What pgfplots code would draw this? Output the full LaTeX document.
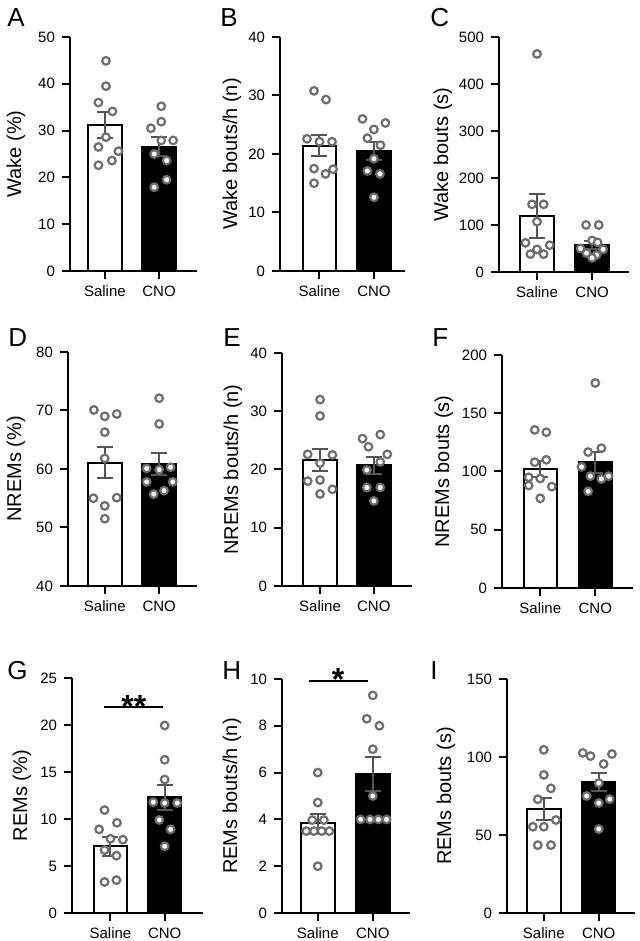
\documentclass[border=0pt]{standalone}
\usepackage{fontspec}
\setmainfont{Liberation Sans}
\usepackage{pgfplots}
\pgfplotsset{compat=1.18}
\definecolor{ptgray}{HTML}{6E6E6E}
\definecolor{errgray}{HTML}{555555}
\pgfplotsset{
  panel/.style={
    scale only axis, anchor=south west,
    axis x line*=bottom, axis y line*=left,
    axis line style={line width=1pt,-},
    tick align=outside, major tick length=4pt,
    tick style={line width=1pt, black},
    xtick={1,2}, xticklabels={Saline,CNO},
    ticklabel style={font=\fontsize{7.5}{9}\selectfont},
    /pgf/number format/assume math mode=true,
    label style={font=\fontsize{10}{12}\selectfont},
    minor tick num=0,
  },
  ylab/.style={every axis y label/.style={at={([xshift=-#1]axis description cs:0,0.5)}, rotate=90, anchor=center, font=\fontsize{10}{12}\selectfont}},
  barS/.style={ybar, bar width=16.75pt, fill=white, draw=black, line width=1pt},
  barC/.style={ybar, bar width=16.75pt, fill=black, draw=black, line width=1pt},
  err/.style={draw=none, mark=none, error bars/.cd, y dir=both, y explicit, error bar style={draw=errgray, line width=1pt}, error mark options={rotate=90, mark size=4pt, line width=1pt, draw=errgray}},
  pts/.style={only marks, mark=*, mark size=1.9pt, mark options={fill=white, draw=ptgray, line width=1.1pt}},
}
\begin{document}
\begin{tikzpicture}
\useasboundingbox (0,0) rectangle (319.5pt,470.5pt);
% ---------- A
\begin{axis}[panel, ylab=27pt, at={(35pt,335pt)}, width=63.5pt, height=117pt,
  xmin=0.356, xmax=2.70, ymin=0, ymax=50, ytick={0,10,...,50}, ylabel={Wake (\%)}]
\addplot[barS] coordinates {(1,31.2)};
\addplot[barC] coordinates {(2,26.6)};
\addplot[err] coordinates {(1,31.2) +- (0,2.7) (2,26.6) +- (0,2.0)};
\addplot[pts] coordinates {(1.02,44.9) (1.02,39.5) (0.88,36.0) (1.14,34.1) (1.02,28.6) (0.88,26.5) (1.25,25.6) (1.13,23.6) (0.88,22.6)};
\addplot[pts] coordinates {(1.85,30.5) (2.04,31.9) (2.04,35.2) (2.04,27.9) (2.26,27.9) (1.91,25.0) (2.14,23.6) (2.14,19.5) (1.91,17.9)};
\end{axis}
% ---------- B
\begin{axis}[panel, ylab=24pt, at={(140pt,335pt)}, width=62.5pt, height=117pt,
  xmin=0.275, xmax=2.57, ymin=0, ymax=40, ytick={0,10,...,40}, ylabel={Wake bouts/h (n)}]
\addplot[barS] coordinates {(1,21.4)};
\addplot[barC] coordinates {(2,20.5)};
\addplot[err] coordinates {(1,21.4) +- (0,1.8) (2,20.5) +- (0,1.6)};
\addplot[pts] coordinates {(0.90,30.8) (1.12,29.3) (0.77,22.6) (1.00,22.1) (1.23,22.1) (0.90,17.5) (1.11,16.6) (1.25,17.4) (0.90,15.0)};
\addplot[pts] coordinates {(1.79,26.0) (2.21,25.3) (2.00,24.2) (1.88,22.7) (2.12,21.5) (2.00,19.2) (1.88,17.1) (2.11,16.6) (2.00,12.6)};
\end{axis}
% ---------- C
\begin{axis}[panel, ylab=28pt, at={(249.5pt,334.5pt)}, width=65pt, height=117.5pt,
  xmin=0.31, xmax=2.67, ymin=0, ymax=500, ytick={0,100,...,500}, ylabel={Wake bouts (s)}]
\addplot[barS] coordinates {(1,120)};
\addplot[barC] coordinates {(2,57)};
\addplot[err] coordinates {(1,120) +- (0,47) (2,57) +- (0,8)};
\addplot[pts] coordinates {(1.00,464) (0.91,144) (1.12,144) (1.00,107) (0.79,62) (1.23,57) (1.00,48) (0.88,38) (1.12,38)};
\addplot[pts] coordinates {(1.89,100) (2.12,100) (2.00,67) (2.10,63) (1.79,50) (2.20,48) (1.90,40) (2.08,36) (2.00,30)};
\end{axis}
% ---------- D
\begin{axis}[panel, ylab=26pt, at={(34pt,177.5pt)}, width=64.5pt, height=117pt,
  xmin=0.324, xmax=2.695, ymin=40, ymax=80, ytick={40,50,...,80}, ylabel={NREMs (\%)}]
\addplot[barS] coordinates {(1,61.1)};
\addplot[barC] coordinates {(2,60.8)};
\addplot[err] coordinates {(1,61.1) +- (0,2.7) (2,60.8) +- (0,1.9)};
\addplot[pts] coordinates {(0.80,70.1) (1.00,69.0) (1.22,69.4) (1.00,66.3) (1.00,61.8) (0.79,55.0) (1.22,55.1) (1.00,53.7) (1.00,51.5)};
\addplot[pts] coordinates {(2.00,72.1) (2.00,67.7) (1.77,60.1) (2.00,59.9) (2.21,60.3) (1.77,57.8) (2.25,57.8) (1.90,55.7) (2.09,56.3)};
\end{axis}
% ---------- E
\begin{axis}[panel, ylab=24.5pt, at={(141pt,177.5pt)}, width=65pt, height=116.5pt,
  xmin=0.292, xmax=2.71, ymin=0, ymax=40, ytick={0,10,...,40}, ylabel={NREMs bouts/h (n)}]
\addplot[barS] coordinates {(1,21.6)};
\addplot[barC] coordinates {(2,20.7)};
\addplot[err] coordinates {(1,21.6) +- (0,1.9) (2,20.7) +- (0,1.4)};
\addplot[pts] coordinates {(1.00,32.0) (1.00,29.2) (0.77,22.6) (1.23,22.5) (1.00,21.1) (0.77,18.0) (1.00,18.2) (1.23,16.6) (1.00,15.8)};
\addplot[pts] coordinates {(1.79,25.3) (2.12,26.0) (1.90,23.9) (2.25,22.6) (2.12,21.3) (1.87,19.9) (1.87,16.9) (2.12,16.9) (2.00,14.6)};
\end{axis}
% ---------- F
\begin{axis}[panel, ylab=29pt, at={(251pt,176.5pt)}, width=65.5pt, height=116.5pt,
  xmin=0.305, xmax=2.685, ymin=0, ymax=200, ytick={0,50,...,200}, ylabel={NREMs bouts (s)}]
\addplot[barS] coordinates {(1,102)};
\addplot[barC] coordinates {(2,108)};
\addplot[err] coordinates {(1,102) +- (0,7) (2,108) +- (0,9)};
\addplot[pts] coordinates {(0.90,135.7) (1.11,133.7) (0.90,108) (1.11,110) (0.79,95) (1.00,94) (0.79,88) (1.21,87) (1.00,77)};
\addplot[pts] coordinates {(2.00,176) (1.87,116.7) (2.11,120) (1.75,104) (1.91,96) (2.11,93.6) (2.24,96) (1.87,83)};
\end{axis}
% ---------- G
\begin{axis}[panel, ylab=25pt, at={(36pt,14pt)}, width=65.5pt, height=117.5pt, clip=false,
  xmin=0.29, xmax=2.707, ymin=0, ymax=25, ytick={0,5,...,25}, ylabel={REMs (\%)}]
\addplot[barS] coordinates {(1,7.1)};
\addplot[barC] coordinates {(2,12.3)};
\addplot[err] coordinates {(1,7.1) +- (0,1.0) (2,12.3) +- (0,1.35)};
\addplot[pts] coordinates {(0.89,10.95) (1.12,9.6) (0.79,8.9) (1.00,7.9) (1.23,7.8) (0.89,6.7) (1.11,6.1) (0.89,3.3) (1.11,3.5)};
\addplot[pts] coordinates {(2.00,19.95) (2.00,16.3) (2.00,14.2) (1.79,11.8) (2.00,11.7) (2.23,11.7) (1.90,9.9) (2.11,8.9) (2.00,7.1)};
\draw[line width=1pt] (axis cs:0.88,21.9) -- (axis cs:1.975,21.9);
\node[anchor=base, font=\fontsize{16}{18}\bfseries\selectfont, yshift=-5pt] at (axis cs:1.43,21.9) {**};
\end{axis}
% ---------- H
\begin{axis}[panel, ylab=25pt, at={(141pt,14pt)}, width=64pt, height=117pt, clip=false,
  xmin=0.35, xmax=2.676, ymin=0, ymax=10, ytick={0,2,...,10}, ylabel={REMs bouts/h (n)}]
\addplot[barS] coordinates {(1,3.83)};
\addplot[barC] coordinates {(2,5.93)};
\addplot[err] coordinates {(1,3.83) +- (0,0.4) (2,5.93) +- (0,0.73)};
\addplot[pts] coordinates {(1.00,6.0) (1.00,4.72) (0.90,3.97) (1.11,3.97) (0.79,3.5) (0.93,3.5) (1.07,3.5) (1.21,3.5) (1.00,2.0)};
\addplot[pts] coordinates {(2.00,9.3) (1.89,8.3) (2.12,8.0) (2.00,7.0) (2.00,5.0) (1.78,4.0) (1.95,4.0) (2.10,4.0) (2.25,4.0)};
\draw[line width=1pt] (axis cs:0.84,9.93) -- (axis cs:1.92,9.93);
\node[anchor=base, font=\fontsize{16}{18}\bfseries\selectfont, yshift=-5pt] at (axis cs:1.37,9.93) {*};
\end{axis}
% ---------- I
\begin{axis}[panel, ylab=30.5pt, at={(253.5pt,14pt)}, width=64pt, height=117pt,
  xmin=0.33, xmax=2.66, ymin=0, ymax=150, ytick={0,50,...,150}, ylabel={REMs bouts (s)}]
\addplot[barS] coordinates {(1,66.4)};
\addplot[barC] coordinates {(2,84)};
\addplot[err] coordinates {(1,66.4) +- (0,7) (2,84) +- (0,6)};
\addplot[pts] coordinates {(1.00,104.6) (1.00,88.5) (1.13,79.9) (0.89,72.9) (1.22,59.6) (0.80,55.3) (1.00,55.3) (0.89,43.5) (1.13,43.5)};
\addplot[pts] coordinates {(1.71,102.6) (1.85,100.6) (2.24,101.9) (2.09,95.5) (2.00,83.3) (1.78,75) (2.20,73) (2.00,70.5) (2.00,53.8)};
\end{axis}
% ---------- panel letters
\begin{scope}[every node/.style={anchor=base west, inner sep=0pt, font=\fontsize{13}{15}\selectfont}]
\node at (3.5pt,457pt) {A};
\node at (110pt,457pt) {B};
\node at (215pt,457pt) {C};
\node at (4pt,297pt) {D};
\node at (111.5pt,297pt) {E};
\node at (216pt,297pt) {F};
\node at (3.5pt,130.5pt) {G};
\node at (111pt,130.5pt) {H};
\node at (215pt,130.5pt) {I};
\end{scope}
\end{tikzpicture}
\end{document}
